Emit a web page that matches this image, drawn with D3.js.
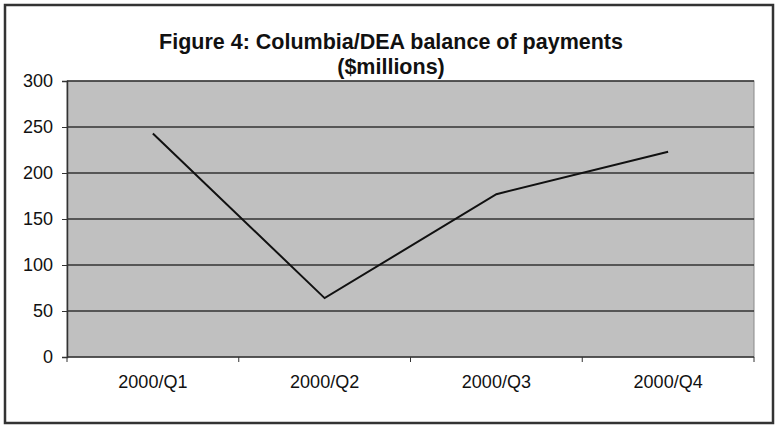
<!DOCTYPE html>
<html>
<head>
<meta charset="utf-8">
<script src="https://cdn.jsdelivr.net/npm/d3@7"></script>
<style>
  body { margin: 0; background: #fff; }
  text { font-family: "Liberation Sans", Arial, sans-serif; }
</style>
</head>
<body>
<script>
// chart data
var quarters = ["2000/Q1", "2000/Q2", "2000/Q3", "2000/Q4"];
var balance = [243, 64, 177, 223];
var yTicks = [0, 50, 100, 150, 200, 250, 300];
var titleLines = ["Figure 4: Columbia/DEA balance of payments", "($millions)"];

var width = 778, height = 426;
var margin = { top: 81, right: 24, bottom: 69, left: 67 };

var svg = d3.select("body").append("svg")
    .attr("width", width)
    .attr("height", height);

// outer frame
svg.append("rect")
    .attr("x", 5).attr("y", 5)
    .attr("width", 768).attr("height", 418)
    .attr("fill", "#fff")
    .attr("stroke", "#333")
    .attr("stroke-width", 2.5);

var x = d3.scaleBand()
    .domain(quarters)
    .range([margin.left, width - margin.right]);

var y = d3.scaleLinear()
    .domain([0, 300])
    .range([height - margin.bottom, margin.top]);

// plot area background
svg.append("rect")
    .attr("x", margin.left)
    .attr("y", margin.top)
    .attr("width", width - margin.left - margin.right)
    .attr("height", height - margin.top - margin.bottom)
    .attr("fill", "#c0c0c0")
    .attr("stroke", "#8a8a8a");

// gridlines
svg.append("g")
  .selectAll("line")
  .data(yTicks.slice(1))
  .enter().append("line")
    .attr("x1", margin.left)
    .attr("x2", width - margin.right)
    .attr("y1", function(d) { return y(d); })
    .attr("y2", function(d) { return y(d); })
    .attr("stroke", "#333")
    .attr("stroke-width", 1.3);

// y axis
var yAxis = svg.append("g")
    .attr("transform", "translate(" + margin.left + ",0)")
    .call(d3.axisLeft(y).tickValues(yTicks).tickSize(5).tickPadding(9));
yAxis.select(".domain").attr("stroke", "#333").attr("stroke-width", 1.5);
yAxis.selectAll(".tick line").attr("stroke", "#333");
yAxis.selectAll("text").attr("font-size", 18).attr("fill", "#111");

// x axis with ticks between categories
var xAxis = svg.append("g")
    .attr("transform", "translate(0," + y(0) + ")");
xAxis.append("line")
    .attr("x1", margin.left).attr("x2", width - margin.right)
    .attr("stroke", "#333").attr("stroke-width", 1.5);
xAxis.selectAll(".tk")
  .data(quarters.concat(["end"]))
  .enter().append("line")
    .attr("class", "tk")
    .attr("x1", function(d, i) { return margin.left + i * x.bandwidth(); })
    .attr("x2", function(d, i) { return margin.left + i * x.bandwidth(); })
    .attr("y1", 0).attr("y2", 5)
    .attr("stroke", "#333");
xAxis.selectAll(".lbl")
  .data(quarters)
  .enter().append("text")
    .attr("class", "lbl")
    .attr("x", function(d) { return x(d) + x.bandwidth() / 2; })
    .attr("y", 31)
    .attr("text-anchor", "middle")
    .attr("font-size", 18)
    .attr("fill", "#111")
    .text(function(d) { return d; });

// the line
var line = d3.line()
    .x(function(d, i) { return x(quarters[i]) + x.bandwidth() / 2; })
    .y(function(d) { return y(d); });

svg.append("path")
    .datum(balance)
    .attr("d", line)
    .attr("fill", "none")
    .attr("stroke", "#111")
    .attr("stroke-width", 2);

// title
svg.append("g")
  .selectAll("text")
  .data(titleLines)
  .enter().append("text")
    .attr("x", 391)
    .attr("y", function(d, i) { return 49 + i * 25; })
    .attr("text-anchor", "middle")
    .attr("font-size", 21.5)
    .attr("font-weight", "bold")
    .attr("fill", "#111")
    .text(function(d) { return d; });
</script>
</body>
</html>
